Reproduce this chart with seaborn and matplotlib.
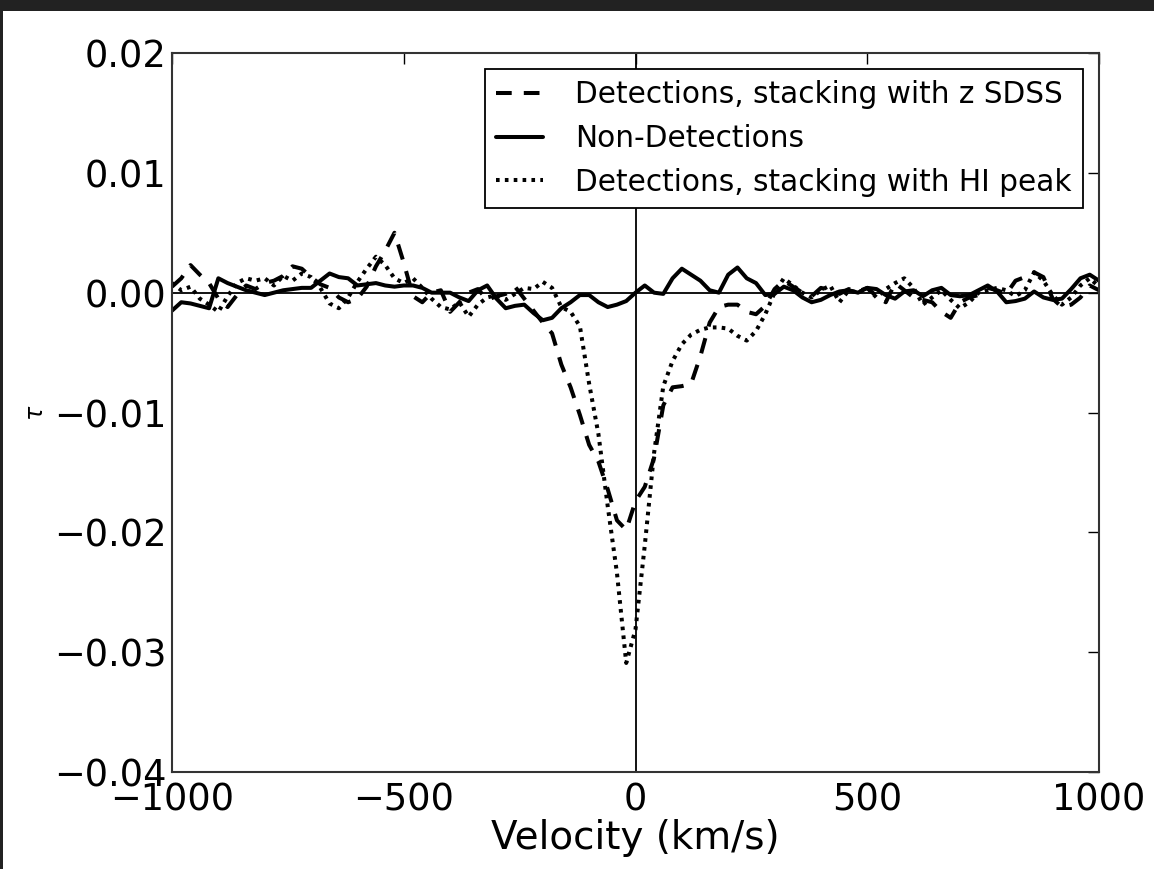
import numpy as np
import pandas as pd
import matplotlib
matplotlib.use("Agg")
import matplotlib.pyplot as plt
from matplotlib.patches import Rectangle
import seaborn as sns

# ---------------- data ----------------
velocity = list(range(-1000, 1001, 20))

tau_z_sdss = [
    0.0005, 0.0012, 0.0023, 0.0015, 0.0008, -0.0005, -0.0012, -0.0002, 0.0006, 0.0003,
    0.0008, 0.0010, 0.0014, 0.0022, 0.0020, 0.0013, 0.0007, 0.0004, -0.0004, -0.0008,
    -0.0005, 0.0005, 0.0022, 0.0035, 0.0050, 0.0025, -0.0003, -0.0008, 0.0000, 0.0002,
    -0.0016, -0.0008, 0.0000, 0.0003, -0.0006, -0.0003, -0.0001, 0.0005, -0.0005, -0.0015,
    -0.0025, -0.0034, -0.0060, -0.0079, -0.0102, -0.0127, -0.0141, -0.0164, -0.0190, -0.0198,
    -0.0174, -0.0162, -0.0138, -0.0094, -0.0079, -0.0078, -0.0076, -0.0053, -0.0025, -0.0012,
    -0.0010, -0.0010, -0.0016, -0.0018, -0.0011, 0.0003, 0.0010, 0.0005, 0.0000, -0.0003,
    0.0004, 0.0002, -0.0001, 0.0003, 0.0001, 0.0004, -0.0003, -0.0008, 0.0008, 0.0002,
    -0.0004, -0.0006, -0.0008, -0.0016, -0.0021, -0.0008, -0.0004, -0.0002, 0.0004, 0.0002,
    -0.0001, 0.0010, 0.0013, 0.0017, 0.0013, -0.0005, -0.0012, -0.0010, -0.0004, 0.0006,
    0.0002,
]

tau_non_det = [
    -0.0015, -0.0008, -0.0009, -0.0011, -0.0013, 0.0012, 0.0008, 0.0005, 0.0002, 0.0000,
    -0.0002, 0.0000, 0.0002, 0.0003, 0.0004, 0.0004, 0.0010, 0.0016, 0.0013, 0.0012,
    0.0006, 0.0007, 0.0008, 0.0006, 0.0005, 0.0006, 0.0006, 0.0004, 0.0000, 0.0000,
    0.0000, -0.0004, -0.0007, 0.0002, 0.0006, -0.0005, -0.0013, -0.0011, -0.0010, -0.0017,
    -0.0023, -0.0021, -0.0013, -0.0008, -0.0002, -0.0002, -0.0008, -0.0012, -0.0010, -0.0007,
    0.0000, 0.0006, 0.0000, -0.0001, 0.0012, 0.0020, 0.0015, 0.0010, 0.0002, 0.0000,
    0.0015, 0.0021, 0.0012, 0.0008, -0.0002, -0.0001, 0.0005, 0.0002, -0.0004, -0.0008,
    -0.0006, -0.0002, 0.0001, 0.0002, 0.0000, 0.0004, 0.0003, -0.0002, -0.0005, 0.0001,
    0.0002, -0.0003, 0.0002, 0.0004, -0.0002, -0.0003, -0.0002, 0.0002, 0.0006, 0.0001,
    -0.0008, -0.0007, -0.0005, 0.0001, -0.0004, -0.0006, -0.0005, 0.0003, 0.0012, 0.0015,
    0.0010,
]

tau_hi_peak = [
    0.0008, 0.0002, 0.0005, -0.0005, -0.0010, -0.0016, -0.0003, 0.0008, 0.0012, 0.0010,
    0.0012, 0.0006, 0.0014, 0.0010, 0.0016, 0.0013, 0.0004, -0.0009, -0.0013, -0.0004,
    0.0009, 0.0020, 0.0030, 0.0023, 0.0012, 0.0008, 0.0012, 0.0004, -0.0005, -0.0012,
    -0.0014, -0.0008, -0.0020, -0.0010, -0.0004, -0.0002, -0.0006, -0.0001, 0.0004, 0.0003,
    0.0009, 0.0004, -0.0012, -0.0016, -0.0028, -0.0076, -0.0118, -0.0178, -0.0234, -0.0309,
    -0.0281, -0.0211, -0.0134, -0.0078, -0.0057, -0.0043, -0.0035, -0.0031, -0.0029, -0.0029,
    -0.0030, -0.0036, -0.0040, -0.0032, -0.0018, 0.0000, 0.0012, 0.0006, 0.0000, -0.0004,
    0.0002, 0.0006, -0.0008, 0.0002, 0.0000, 0.0004, -0.0004, 0.0003, 0.0008, 0.0012,
    0.0004, -0.0010, -0.0004, 0.0002, -0.0006, -0.0013, -0.0008, 0.0000, 0.0002, 0.0004,
    0.0002, -0.0003, 0.0002, 0.0017, 0.0010, -0.0002, -0.0010, -0.0004, 0.0006, 0.0012,
    0.0005,
]

labels = ["Detections, stacking with z SDSS",
          "Non-Detections",
          "Detections, stacking with HI peak"]

xticks = [-1000, -500, 0, 500, 1000]
yticks = [-0.04, -0.03, -0.02, -0.01, 0.00, 0.01, 0.02]

# ---------------- style ----------------
sns.set_theme(style="white")
plt.rcParams["font.family"] = ["DejaVu Sans"]
plt.rcParams["mathtext.fontset"] = "dejavusans"
plt.rcParams["text.color"] = "black"
plt.rcParams["legend.labelcolor"] = "black"

fig = plt.figure(figsize=(11.54, 8.69), dpi=100, facecolor="#222222")
fig.patches.append(Rectangle((3 / 1154, 0), 1, 1 - 11 / 869, transform=fig.transFigure,
                             facecolor="white", edgecolor="none", zorder=-10))
ax = fig.add_axes([172 / 1154, 1 - 772 / 869, 927 / 1154, 719 / 869])
ax.set_facecolor("white")

df = pd.DataFrame({"v": velocity, "z": tau_z_sdss, "n": tau_non_det, "h": tau_hi_peak})

lw = 2.9
sns.lineplot(data=df, x="v", y="z", ax=ax, color="black", lw=lw, label=labels[0],
             errorbar=None, sort=False)
sns.lineplot(data=df, x="v", y="n", ax=ax, color="black", lw=lw, label=labels[1],
             errorbar=None, sort=False)
sns.lineplot(data=df, x="v", y="h", ax=ax, color="black", lw=lw, label=labels[2],
             errorbar=None, sort=False)
lines = ax.get_lines()
lines[0].set_dashes((3.9, 3.0))
lines[2].set_dashes((0.9, 1.3))

ax.axhline(0, color="black", lw=1.3, zorder=1)
ax.axvline(0, color="black", lw=1.3, zorder=1)

ax.set_xlim(-1000, 1000)
ax.set_ylim(-0.04, 0.02)
ax.set_xticks(xticks)
ax.set_yticks(yticks)
ax.set_xticklabels([f"{t:d}".replace("-", "\u2212") for t in xticks])
ax.set_yticklabels([f"{t:.2f}".replace("-", "\u2212") for t in yticks])
ax.tick_params(axis="both", direction="in", length=8, width=1, top=True, right=True,
               labelsize=26.5, colors="black")
ax.tick_params(axis="x", pad=7)
ax.tick_params(axis="y", pad=4)
for s in ax.spines.values():
    s.set_color("#333333")
    s.set_linewidth(1.5)

ax.set_xlabel("Velocity (km/s)", fontsize=28, color="black", labelpad=0)
ax.set_ylabel(r"$\tau$", fontsize=17, color="black", labelpad=4)

leg = ax.legend(loc="upper right", fontsize=21.3, frameon=True, fancybox=False,
                framealpha=1, edgecolor="black", handlelength=1.6, borderaxespad=0.54,
                labelspacing=0.5, handletextpad=1.08, borderpad=0.38)
leg.get_frame().set_linewidth(1.3)
for t in leg.get_texts():
    t.set_color("black")

fig.savefig("out.png", dpi=100, facecolor=fig.get_facecolor())
